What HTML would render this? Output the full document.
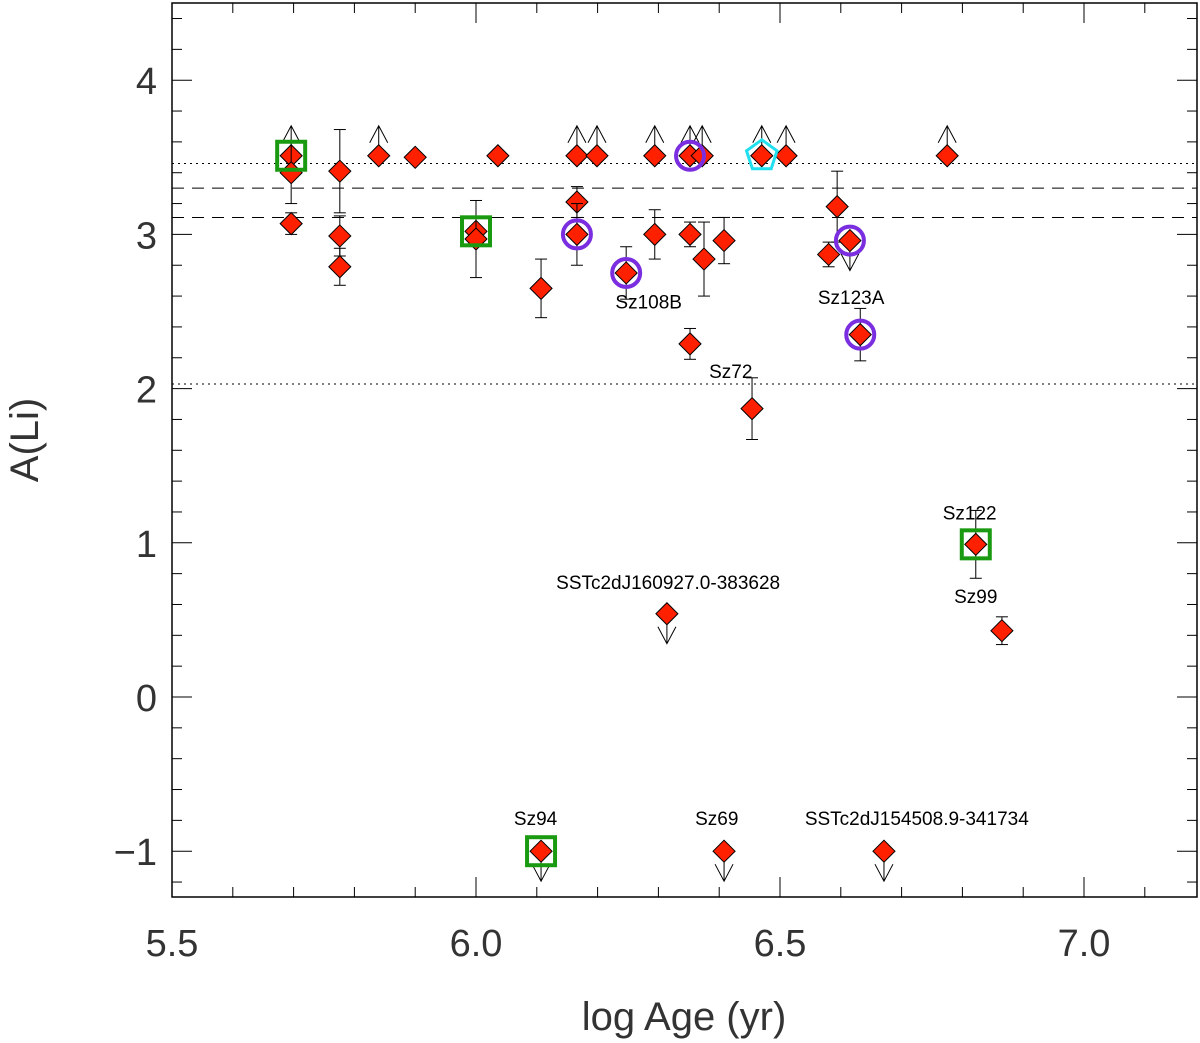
<!DOCTYPE html>
<html><head><meta charset="utf-8"><style>body{margin:0;background:#fff}svg{display:block;font-family:"Liberation Sans",sans-serif}</style></head>
<body>
<svg id="chart" width="1200" height="1043" viewBox="0 0 1200 1043"></svg>
<script>
const xs=[5.696,5.696,5.696,5.776,5.776,5.776,5.84,5.90,6.0,6.0,6.036,6.107,6.166,6.166,6.166,6.199,6.247,6.294,6.294,6.314,6.352,6.352,6.352,6.372,6.375,6.408,6.408,6.454,6.47,6.51,6.58,6.594,6.615,6.632,6.775,6.822,6.865,6.671,6.107];
const ys=[3.51,3.40,3.07,3.41,2.99,2.79,3.51,3.50,3.02,2.97,3.51,2.65,3.51,3.21,3.00,3.51,2.75,3.51,3.00,0.54,3.51,3.00,2.29,3.51,2.84,2.96,-1,1.87,3.51,3.51,2.87,3.18,2.96,2.35,3.51,0.99,0.43,-1,-1];
const errs=[0,0.2,0.07,0.27,0.13,0.12,0,0,0,0.25,0,0.19,0,0.1,0.2,0,0.17,0,0.16,0,0,0.08,0.1,0,0.24,0.15,0,0.2,0,0,0.08,0.23,0,0.17,0,0.22,0.09,0,0];
const lim=[1,0,0,0,0,0,1,0,0,0,0,0,1,0,0,1,0,1,0,-1,1,0,0,1,0,0,-1,0,1,1,0,0,-1,0,1,0,0,-1,-1];
const squares=[[5.696,3.51],[6.0,3.02],[6.822,0.99],[6.107,-1]];
const circles=[[6.166,3.0],[6.247,2.75],[6.352,3.51],[6.615,2.96],[6.632,2.35]];
const pentagons=[[6.47,3.51]];
const labels=[["Sz108B",6.284,2.52],["Sz72",6.419,2.07],["Sz123A",6.617,2.55],["Sz122",6.812,1.15],["SSTc2dJ160927.0-383628",6.316,0.7],["Sz99",6.822,0.61],["Sz94",6.098,-0.83],["Sz69",6.396,-0.83],["SSTc2dJ154508.9-341734",6.725,-0.83]];
const xticks=[5.5,6.0,6.5,7.0], xtl=["5.5","6.0","6.5","7.0"];
const yticks=[-1,0,1,2,3,4], ytl=["\u22121","0","1","2","3","4"];
const hlines=[[3.46,"2,4"],[3.30,"12,8"],[3.11,"12,8"],[2.03,"2,4"]];
const X=v=>172+(v-5.5)*608, Y=v=>697-v*154.2;
const L=172,R=1197,T=3,B=897;
const s=document.getElementById('chart');const NS="http://www.w3.org/2000/svg";
function mk(t,a,p){const e=document.createElementNS(NS,t);for(const k in a)e.setAttribute(k,a[k]);(p||s).appendChild(e);return e;}
let e;
for(const [v,d] of hlines){e=mk('line',{x1:L,x2:R,y1:Y(v),y2:Y(v),stroke:'#000','stroke-width':1,'stroke-dasharray':d});

}
e=mk('rect',{x:L,y:T,width:R-L,height:B-T,fill:'none',stroke:'#000','stroke-width':1.5});


for(let v=5.5;v<7.19;v+=0.1){const maj=Math.abs(v*2-Math.round(v*2))<0.01;const l=maj?20:10;
mk('line',{x1:X(v),x2:X(v),y1:B,y2:B-l,stroke:'#000'});mk('line',{x1:X(v),x2:X(v),y1:T,y2:T+l,stroke:'#000'});}
for(let v=-1.2;v<4.5;v+=0.2){const maj=Math.abs(v-Math.round(v))<0.01;const l=maj?20:10;
mk('line',{x1:L,x2:L+l,y1:Y(v),y2:Y(v),stroke:'#000'});mk('line',{x1:R,x2:R-l,y1:Y(v),y2:Y(v),stroke:'#000'});}
xticks.forEach((v,i)=>{e=mk('text',{x:X(v),y:956,'text-anchor':'middle','font-size':38,fill:'#333'});e.textContent=xtl[i];

});
yticks.forEach((v,i)=>{e=mk('text',{x:157,y:Y(v)+14,'text-anchor':'end','font-size':38,fill:'#333'});e.textContent=ytl[i];

});
e=mk('text',{x:684,y:1030,'text-anchor':'middle','font-size':40,fill:'#333'});e.textContent='log Age (yr)';


e=mk('text',{x:38,y:440,'text-anchor':'middle','font-size':40,fill:'#333',transform:'rotate(-90 38 440)'});e.textContent='A(Li)';


xs.forEach((xv,i)=>{const cx=X(xv),cy=Y(ys[i]);const g=mk('g',{});


if(errs[i]>0){const t=Y(ys[i]+errs[i]),b=Y(ys[i]-errs[i]);mk('line',{x1:cx,x2:cx,y1:t,y2:b,stroke:'#000'},g);mk('line',{x1:cx-6,x2:cx+6,y1:t,y2:t,stroke:'#000'},g);mk('line',{x1:cx-6,x2:cx+6,y1:b,y2:b,stroke:'#000'},g);}
if(lim[i]){const d=lim[i];const tip=cy-d*30;mk('path',{d:`M${cx} ${cy}L${cx} ${tip}M${cx-9} ${tip+d*17}L${cx} ${tip}L${cx+9} ${tip+d*17}`,stroke:'#000',fill:'none'},g);}
mk('path',{d:`M${cx} ${cy-11}L${cx+11} ${cy}L${cx} ${cy+11}L${cx-11} ${cy}Z`,fill:'#ff2000',stroke:'#000','stroke-width':1},g);});
squares.forEach(([a,b])=>{e=mk('rect',{x:X(a)-14,y:Y(b)-14,width:28,height:28,fill:'none',stroke:'#1a9a10','stroke-width':4});

});
circles.forEach(([a,b])=>{e=mk('circle',{cx:X(a),cy:Y(b),r:14,fill:'none',stroke:'#7a2ee0','stroke-width':4});

});
pentagons.forEach(([a,b])=>{const cx=X(a),cy=Y(b);let p=[];for(let k=0;k<5;k++){const an=-Math.PI/2+k*2*Math.PI/5;p.push((cx+16*Math.cos(an)).toFixed(1)+','+(cy+16*Math.sin(an)).toFixed(1));}
e=mk('polygon',{points:p.join(' '),fill:'none',stroke:'#20e0f0','stroke-width':3});

});
labels.forEach(([t,a,b])=>{e=mk('text',{x:X(a),y:Y(b),'text-anchor':'middle','font-size':19,fill:'#000'});e.textContent=t;

});
</script>
</body></html>
